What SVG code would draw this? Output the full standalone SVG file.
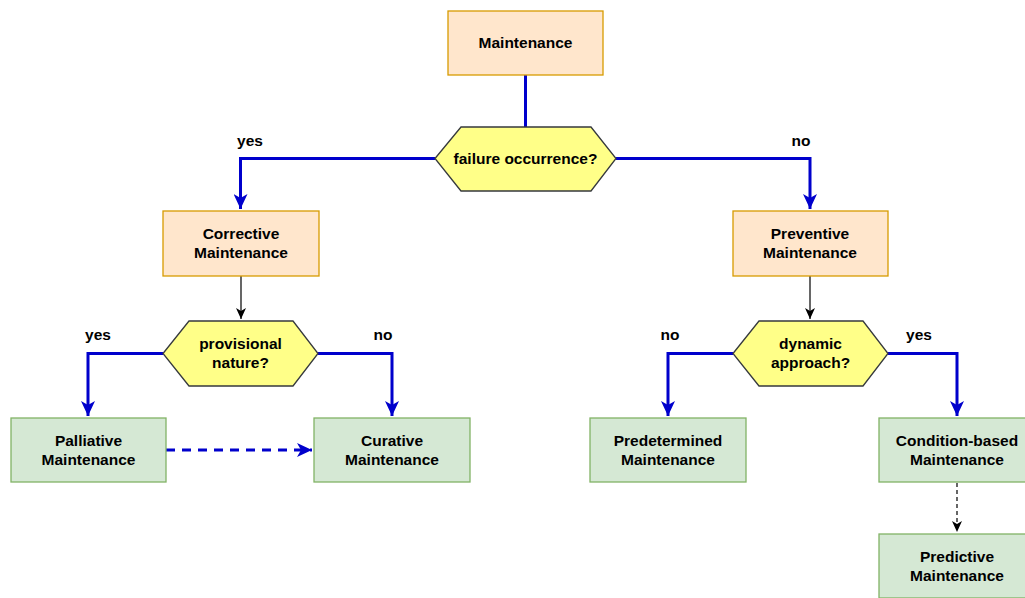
<svg xmlns="http://www.w3.org/2000/svg" width="1025" height="598" viewBox="0 0 1025 598">
<style>
text{font-family:"Liberation Sans",Arial,sans-serif;font-weight:bold;font-size:15.5px;fill:#000;text-anchor:middle}
.peach{fill:#ffe6cc;stroke:#d79b00;stroke-width:1.3}
.green{fill:#d5e8d4;stroke:#82b366;stroke-width:1.3}
.hex{fill:#ffff88;stroke:#36393d;stroke-width:1.3}
.blue{fill:none;stroke:#0000cc;stroke-width:3}
.thin{fill:none;stroke:#000;stroke-width:1.2}
</style>
<defs>
<marker id="ab" markerUnits="userSpaceOnUse" markerWidth="16" markerHeight="14" viewBox="0 0 16 14" refX="15" refY="7" orient="auto">
<path d="M0,0 L15,7 L0,14 L4,7 Z" fill="#0000cc"/>
</marker>
<marker id="ak" markerUnits="userSpaceOnUse" markerWidth="12" markerHeight="10" viewBox="0 0 12 10" refX="11" refY="5" orient="auto">
<path d="M0,0 L11,5 L0,10 L3,5 Z" fill="#000"/>
</marker>
</defs>
<rect width="1025" height="598" fill="#fff"/>
<g id="connectors">
<path class="blue" d="M525.5,75 V127"/>
<path class="blue" d="M435,158.5 H240.5 V209" marker-end="url(#ab)"/>
<path class="blue" d="M616,158.5 H810 V209" marker-end="url(#ab)"/>
<path class="thin" d="M241,276 V319" marker-end="url(#ak)"/>
<path class="thin" d="M810,276 V319" marker-end="url(#ak)"/>
<path class="blue" d="M163,353.5 H88 V416" marker-end="url(#ab)"/>
<path class="blue" d="M318,353.5 H392 V416" marker-end="url(#ab)"/>
<path class="blue" d="M733,353.5 H668 V416" marker-end="url(#ab)"/>
<path class="blue" d="M888,353.5 H957 V416" marker-end="url(#ab)"/>
<path class="blue" d="M166,450 H312" stroke-dasharray="9 7" marker-end="url(#ab)"/>
<path class="thin" d="M957,483 V532" stroke-dasharray="4 3" marker-end="url(#ak)"/>
</g>
<g id="labels">
<text x="250" y="146">yes</text>
<text x="801" y="146">no</text>
<text x="98" y="340">yes</text>
<text x="383" y="340">no</text>
<text x="670" y="340">no</text>
<text x="919" y="340">yes</text>
</g>
<g id="maintenance">
<rect class="peach" x="448" y="11" width="155" height="64"/>
<text x="525.5" y="47.5">Maintenance</text>
</g>
<g id="failure-occurrence">
<polygon class="hex" points="435,158.5 461,127 591,127 616,158.5 591,191 461,191"/>
<text x="525.5" y="164">failure occurrence?</text>
</g>
<g id="corrective">
<rect class="peach" x="163" y="211" width="156" height="65"/>
<text x="241" y="238.5">Corrective</text>
<text x="241" y="258">Maintenance</text>
</g>
<g id="preventive">
<rect class="peach" x="733" y="211" width="155" height="65"/>
<text x="810" y="238.5">Preventive</text>
<text x="810" y="258">Maintenance</text>
</g>
<g id="provisional-nature">
<polygon class="hex" points="163,353.5 189,321 293,321 318,353.5 293,386 189,386"/>
<text x="240.5" y="349">provisional</text>
<text x="240.5" y="368">nature?</text>
</g>
<g id="dynamic-approach">
<polygon class="hex" points="733,353.5 759,321 863,321 888,353.5 863,386 759,386"/>
<text x="810.5" y="349">dynamic</text>
<text x="810.5" y="368">approach?</text>
</g>
<g id="palliative">
<rect class="green" x="11" y="418" width="155" height="64"/>
<text x="88.5" y="445.5">Palliative</text>
<text x="88.5" y="465">Maintenance</text>
</g>
<g id="curative">
<rect class="green" x="314" y="418" width="156" height="64"/>
<text x="392" y="445.5">Curative</text>
<text x="392" y="465">Maintenance</text>
</g>
<g id="predetermined">
<rect class="green" x="590" y="418" width="156" height="64"/>
<text x="668" y="445.5">Predetermined</text>
<text x="668" y="465">Maintenance</text>
</g>
<g id="condition-based">
<rect class="green" x="879" y="418" width="156" height="64"/>
<text x="957" y="445.5">Condition-based</text>
<text x="957" y="465">Maintenance</text>
</g>
<g id="predictive">
<rect class="green" x="879" y="534" width="156" height="64"/>
<text x="957" y="561.5">Predictive</text>
<text x="957" y="581">Maintenance</text>
</g>
</svg>
